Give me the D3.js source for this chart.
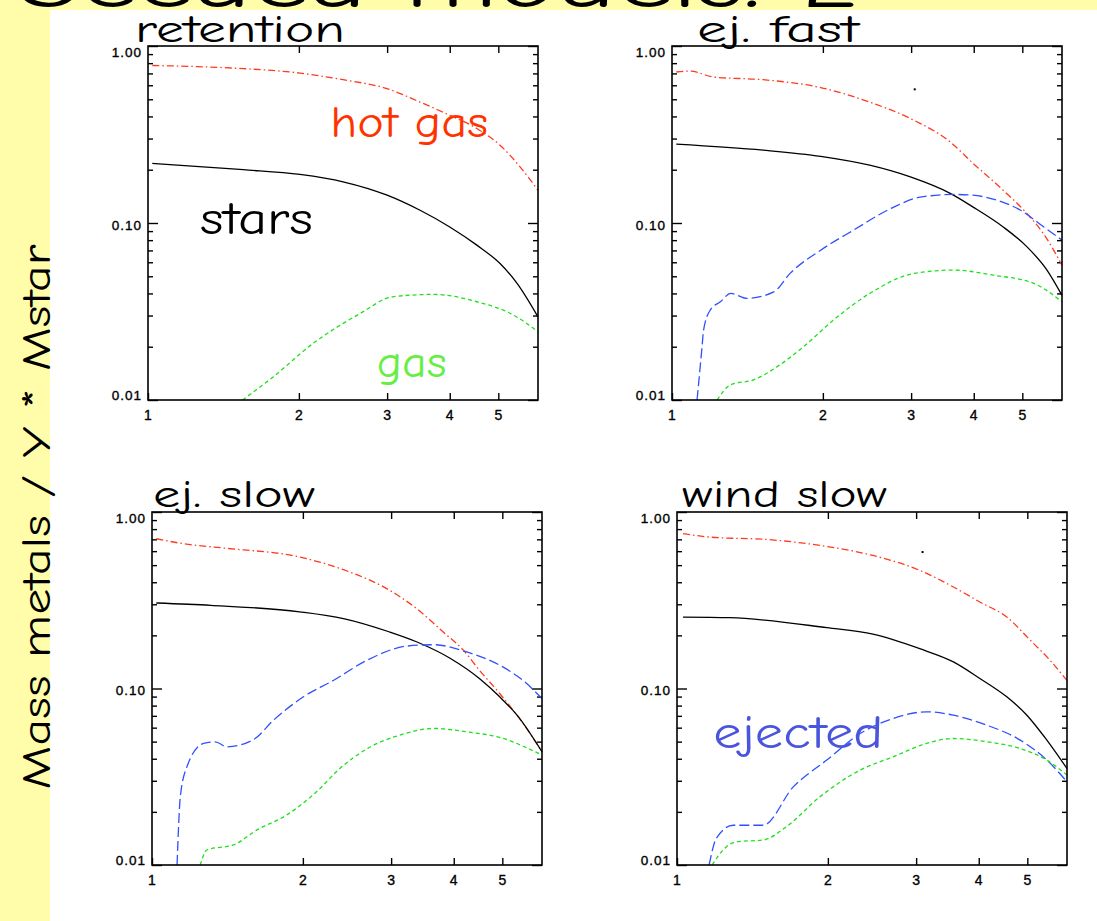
<!DOCTYPE html>
<html>
<head>
<meta charset="utf-8">
<script src="https://cdn.jsdelivr.net/npm/d3@7"></script>
<style>
  html, body { margin: 0; padding: 0; background: #fffdaa; }
  svg { display: block; }
</style>
</head>
<body>
<svg id="chart" width="1097" height="921"></svg>
<script>
// ---------------- data ----------------
const xTickValues = [1, 2, 3, 4, 5];
const yTickValues = [1, 0.1, 0.01];
const yTickLabels = ["1.00", "0.10", "0.01"];
const panelTitles = ["retention", "ej. fast", "ej. slow", "wind slow"];
const slideTitle = "Seeded models: 2";
const yAxisTitle = "Mass metals / Y * Mstar";

// retention
const retentionHotGas = [[1.02,0.776],[1.25,0.765],[1.55,0.745],[2.01,0.703],[2.45,0.645],[3.0,0.574],[3.49,0.482],[4.0,0.406],[4.53,0.342],[5.04,0.275],[5.53,0.207],[6.0,0.153]];
const retentionStars  = [[1.02,0.217],[1.55,0.200],[2.01,0.188],[2.45,0.171],[3.0,0.1436],[3.49,0.118],[4.0,0.095],[4.53,0.075],[5.04,0.059],[5.45,0.0456],[6.0,0.0295]];
const retentionGas    = [[1.544,0.01],[1.777,0.0135],[2.136,0.0209],[2.65,0.0308],[3.08,0.0383],[3.71,0.0395],[4.53,0.0359],[5.36,0.0302],[6.0,0.0243]];

// ej. fast
const fastHotGas  = [[1.02,0.713],[1.087,0.722],[1.21,0.668],[1.52,0.645],[1.98,0.582],[2.48,0.482],[2.99,0.389],[3.59,0.287],[3.99,0.217],[4.58,0.153],[5.11,0.113],[5.51,0.087],[6.0,0.0578]];
const fastStars   = [[1.02,0.279],[1.52,0.258],[1.98,0.238],[2.48,0.212],[2.99,0.182],[3.59,0.147],[3.99,0.123],[4.58,0.095],[5.11,0.0733],[5.6,0.0542],[6.0,0.039]];
const fastEjected = [[1.122,0.01],[1.148,0.02],[1.156,0.0248],[1.192,0.0322],[1.249,0.0359],[1.31,0.04],[1.41,0.0375],[1.596,0.0408],[1.72,0.0519],[1.98,0.0702],[2.30,0.091],[2.77,0.123],[3.13,0.140],[3.65,0.145],[3.94,0.144],[4.45,0.1345],[4.96,0.118],[5.52,0.095],[6.0,0.080]];
const fastGas     = [[1.23,0.01],[1.31,0.0122],[1.455,0.013],[1.62,0.0154],[1.83,0.02],[2.10,0.0283],[2.48,0.040],[3.04,0.0519],[3.65,0.0542],[4.38,0.0507],[5.27,0.0456],[6.0,0.0359]];

// ej. slow
const slowHotGas  = [[1.02,0.706],[1.156,0.661],[1.389,0.625],[1.97,0.556],[2.41,0.471],[2.98,0.360],[3.37,0.284],[3.81,0.209],[4.18,0.165],[4.5,0.127],[4.94,0.0937],[5.5,0.0634],[6.0,0.0438]];
const slowStars   = [[1.02,0.305],[1.31,0.296],[1.97,0.272],[2.41,0.249],[2.98,0.209],[3.37,0.184],[3.94,0.148],[4.5,0.114],[4.94,0.0897],[5.35,0.0706],[6.0,0.0438]];
const slowEjected = [[1.122,0.01],[1.139,0.0244],[1.174,0.036],[1.268,0.0489],[1.337,0.0499],[1.411,0.0467],[1.595,0.0514],[1.748,0.0662],[2.005,0.0897],[2.30,0.111],[2.69,0.145],[3.23,0.174],[3.65,0.177],[4.25,0.161],[4.94,0.1355],[5.5,0.111],[6.0,0.0878]];
const slowGas     = [[1.248,0.01],[1.288,0.0122],[1.455,0.013],[1.62,0.0158],[1.857,0.0192],[2.13,0.026],[2.37,0.0352],[2.69,0.0457],[3.12,0.0544],[3.65,0.0594],[4.25,0.0568],[4.94,0.0528],[6.0,0.042]];

// wind slow
const windHotGas  = [[1.028,0.754],[1.162,0.721],[1.53,0.697],[1.99,0.638],[2.46,0.567],[3.05,0.467],[3.56,0.376],[4.02,0.309],[4.55,0.254],[5.07,0.1875],[5.55,0.1445],[6.0,0.111]];
const windStars   = [[1.028,0.254],[1.274,0.252],[1.99,0.221],[2.46,0.203],[3.05,0.168],[3.56,0.1415],[4.02,0.114],[4.55,0.0897],[4.99,0.0706],[5.47,0.051],[6.0,0.0352]];
const windEjected = [[1.159,0.01],[1.198,0.01416],[1.294,0.0168],[1.485,0.0168],[1.706,0.0277],[1.99,0.0393],[2.32,0.0556],[2.70,0.0676],[3.15,0.0738],[3.56,0.0706],[4.15,0.062],[4.84,0.051],[5.47,0.0393],[6.0,0.0296]];
const windGas     = [[1.175,0.01],[1.255,0.0127],[1.314,0.01355],[1.485,0.01385],[1.654,0.0165],[1.93,0.0244],[2.32,0.0345],[2.70,0.041],[3.15,0.0489],[3.56,0.0521],[4.15,0.0499],[4.84,0.0457],[5.47,0.0393],[6.0,0.0323]];

// isolated plotted points
const fastStrayPoints = [[3.05,0.569]];
const windStrayPoints = [[3.09,0.593]];

// series per panel
const panelSeries = [
  [["hot", retentionHotGas], ["stars", retentionStars], ["gas", retentionGas]],
  [["hot", fastHotGas], ["stars", fastStars], ["ejected", fastEjected], ["gas", fastGas]],
  [["hot", slowHotGas], ["stars", slowStars], ["ejected", slowEjected], ["gas", slowGas]],
  [["hot", windHotGas], ["stars", windStars], ["ejected", windEjected], ["gas", windGas]]
];
const panelStrays = [[], fastStrayPoints, [], windStrayPoints];

// in-plot labels: [panel, text, kind, anchor x, anchor y]
const callouts = [
  [0, "hot gas", "hot", 2.31, 0.307],
  [0, "stars", "stars", 1.27, 0.0867],
  [0, "gas", "gas", 2.86, 0.01354],
  [3, "ejected", "ejected", 1.181, 0.0458]
];

// ---------------- styles & layout ----------------
const lineStyle = {
  hot:     { color: "#ff3a1e", dash: "7,3,1.5,3" },
  stars:   { color: "#000000", dash: null },
  ejected: { color: "#3050ff", dash: "10,4" },
  gas:     { color: "#1ee01e", dash: "4,3" }
};
const calloutStyle = {
  hot:     { color: "#ff3300", size: 44, width: 158 },
  stars:   { color: "#000000", size: 46, width: 113 },
  gas:     { color: "#66ee44", size: 44, width: 70 },
  ejected: { color: "#4a55dd", size: 46, width: 170 }
};
const handFont = "'Comic Sans MS', 'Comic Neue', 'DejaVu Sans', sans-serif";
const tickFont = "'Liberation Sans', Arial, sans-serif";

const panels = [
  { left: 148, top: 46,  width: 390, height: 354, titleX: 135, titleY: 42,  titleW: 210 },
  { left: 672, top: 46,  width: 390, height: 354, titleX: 697, titleY: 42,  titleW: 162 },
  { left: 152, top: 512, width: 390, height: 353, titleX: 153, titleY: 507, titleW: 162 },
  { left: 677, top: 512, width: 390, height: 353, titleX: 682, titleY: 507, titleW: 205 }
];

const W = 1097, H = 921;
const svg = d3.select("#chart");

// background: pale yellow slide with white figure area
svg.append("rect").attr("width", W).attr("height", H).attr("fill", "#fffdaa");
svg.append("defs").append("clipPath").attr("id", "band")
  .append("rect").attr("x", 0).attr("y", 0).attr("width", W).attr("height", 10);
svg.append("g").attr("clip-path", "url(#band)")
  .append("text")
  .attr("x", 18).attr("y", 7)
  .attr("font-family", handFont).attr("font-size", 72)
  .attr("textLength", 842).attr("lengthAdjust", "spacingAndGlyphs")
  .attr("fill", "#000").text(slideTitle);
svg.append("rect").attr("x", 50).attr("y", 10).attr("width", W - 50).attr("height", H - 10).attr("fill", "#ffffff");

// shared y-axis title on the yellow strip
svg.append("text")
  .attr("transform", "translate(50,517) rotate(-90)")
  .attr("text-anchor", "middle")
  .attr("font-family", handFont).attr("font-size", 40)
  .attr("textLength", 545).attr("lengthAdjust", "spacingAndGlyphs")
  .attr("fill", "#000").text(yAxisTitle);

const minorY = [];
[0.01, 0.1].forEach(dec => { for (let k = 2; k <= 9; k++) minorY.push(+(k * dec).toPrecision(3)); });

panels.forEach((p, i) => {
  const g = svg.append("g");
  const x = d3.scaleLog().domain([1, 6]).range([p.left, p.left + p.width]);
  const y = d3.scaleLog().domain([0.01, 1]).range([p.top + p.height, p.top]);
  const bottom = p.top + p.height, right = p.left + p.width;

  // title
  g.append("text")
    .attr("x", p.titleX).attr("y", p.titleY)
    .attr("font-family", handFont).attr("font-size", 38)
    .attr("textLength", p.titleW).attr("lengthAdjust", "spacingAndGlyphs")
    .attr("fill", "#000").text(panelTitles[i]);

  const tidy = (size) => sel => {
    sel.select(".domain").remove();
    sel.selectAll(".tick line").attr("stroke", "#000").attr("stroke-width", 1.4);
    sel.selectAll(".tick text")
      .attr("font-family", tickFont).attr("font-size", size)
      .attr("letter-spacing", 1).attr("fill", "#000")
      .attr("stroke", "#000").attr("stroke-width", 0.35);
  };

  // bottom axis with labels
  g.append("g").attr("transform", `translate(0,${bottom})`)
    .call(d3.axisBottom(x).tickValues(xTickValues).tickSize(-7).tickPadding(10)
      .tickFormat(d3.format("d")))
    .call(tidy(14));
  // top axis, ticks only
  g.append("g").attr("transform", `translate(0,${p.top})`)
    .call(d3.axisTop(x).tickValues(xTickValues.slice(1)).tickSize(-7).tickFormat(""))
    .call(tidy(14));

  // left axis: majors with labels, minors unlabeled
  const leftMajor = g.append("g").attr("transform", `translate(${p.left},0)`)
    .call(d3.axisLeft(y).tickValues(yTickValues).tickSize(-10).tickPadding(6)
      .tickFormat((d, j) => yTickLabels[j]))
    .call(tidy(13.5));
  leftMajor.selectAll(".tick text").attr("dy", d => d === 1 ? "0.8em" : d === 0.01 ? "-0.02em" : "0.45em");
  g.append("g").attr("transform", `translate(${p.left},0)`)
    .call(d3.axisLeft(y).tickValues(minorY).tickSize(-5).tickFormat(""))
    .call(tidy(13.5));
  // right axis mirrors the ticks
  g.append("g").attr("transform", `translate(${right},0)`)
    .call(d3.axisRight(y).tickValues(yTickValues).tickSize(-10).tickFormat(""))
    .call(tidy(13.5));
  g.append("g").attr("transform", `translate(${right},0)`)
    .call(d3.axisRight(y).tickValues(minorY).tickSize(-5).tickFormat(""))
    .call(tidy(13.5));

  // curves
  const line = d3.line().x(d => x(d[0])).y(d => y(d[1])).curve(d3.curveMonotoneX);
  panelSeries[i].forEach(([kind, values]) => {
    const st = lineStyle[kind];
    g.append("path").datum(values)
      .attr("d", line)
      .attr("fill", "none")
      .attr("stroke", st.color)
      .attr("stroke-width", 1.3)
      .attr("stroke-dasharray", st.dash);
  });

  g.selectAll(".stray").data(panelStrays[i]).join("rect")
    .attr("x", d => x(d[0]) - 1).attr("y", d => y(d[1]) - 1)
    .attr("width", 2).attr("height", 2).attr("fill", "#000");

  // frame
  g.append("rect")
    .attr("x", p.left).attr("y", p.top).attr("width", p.width).attr("height", p.height)
    .attr("fill", "none").attr("stroke", "#000").attr("stroke-width", 1.6);

  // in-plot labels
  callouts.filter(c => c[0] === i).forEach(([, text, kind, cx, cy]) => {
    const cs = calloutStyle[kind];
    g.append("text")
      .attr("x", x(cx)).attr("y", y(cy))
      .attr("font-family", handFont).attr("font-size", cs.size)
      .attr("textLength", cs.width).attr("lengthAdjust", "spacingAndGlyphs")
      .attr("fill", cs.color).text(text);
  });
});
</script>
</body>
</html>
